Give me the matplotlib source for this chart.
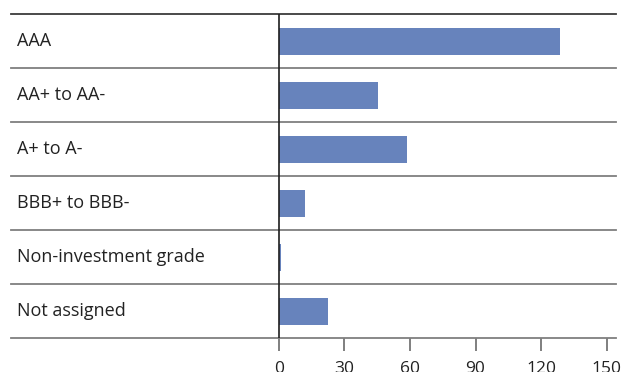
import matplotlib
matplotlib.use("Agg")
import matplotlib.pyplot as plt

categories = ["AAA", "AA+ to AA-", "A+ to A-", "BBB+ to BBB-",
              "Non-investment grade", "Not assigned"]
values = [128.6, 45.2, 58.8, 12.0, 1.1, 22.5]
ticks = [0, 30, 60, 90, 120, 150]

plt.rcParams["font.family"] = ["Open Sans", "DejaVu Sans"]

W, H = 621, 372
fig = plt.figure(figsize=(W / 100, H / 100), dpi=100)

# table area spans the full width; the value axis starts at the vertical rule
left_px, right_px, top_px, bottom_px = 11, 616, 14, 338
ax = fig.add_axes([left_px / W, 1 - bottom_px / H,
                   (right_px - left_px) / W, (bottom_px - top_px) / H])

zero_px, full_px = 278.7, 606.7
scale = (full_px - zero_px) / 150.0
ax.set_xlim((left_px - zero_px) / scale, (right_px - zero_px) / scale)
n = len(categories)
ax.set_ylim(n - 0.5, -0.5)

ypos = list(range(n))
ax.barh(ypos, values, height=0.5, color="#6783bc", zorder=2)

# horizontal row separators
for i in range(n + 1):
    y = i - 0.5
    col = "#3c3c3c" if i == 0 else "#7f7f7f"
    ax.axhline(y, color=col, lw=1.3, zorder=3, clip_on=False)

# vertical zero rule
ax.axvline(0, color="#1e1e1e", lw=1.2, zorder=4)

for y, c in zip(ypos, categories):
    ax.text(0.01, y, c, transform=ax.get_yaxis_transform(),
            ha="left", va="center", fontsize=13, color="#222222")
# yaxis transform has x in axes coords; use offset from left edge
for t in ax.texts:
    t.set_x(6 / (right_px - left_px))

for s in ax.spines.values():
    s.set_visible(False)
ax.set_yticks([])
ax.set_xticks(ticks)
ax.set_xticklabels([str(t) for t in ticks])
ax.tick_params(axis="x", length=9.5, width=1.4, color="#7f7f7f",
               pad=7, labelsize=12.5, labelcolor="#222222")

fig.savefig("out.png", dpi=100)
